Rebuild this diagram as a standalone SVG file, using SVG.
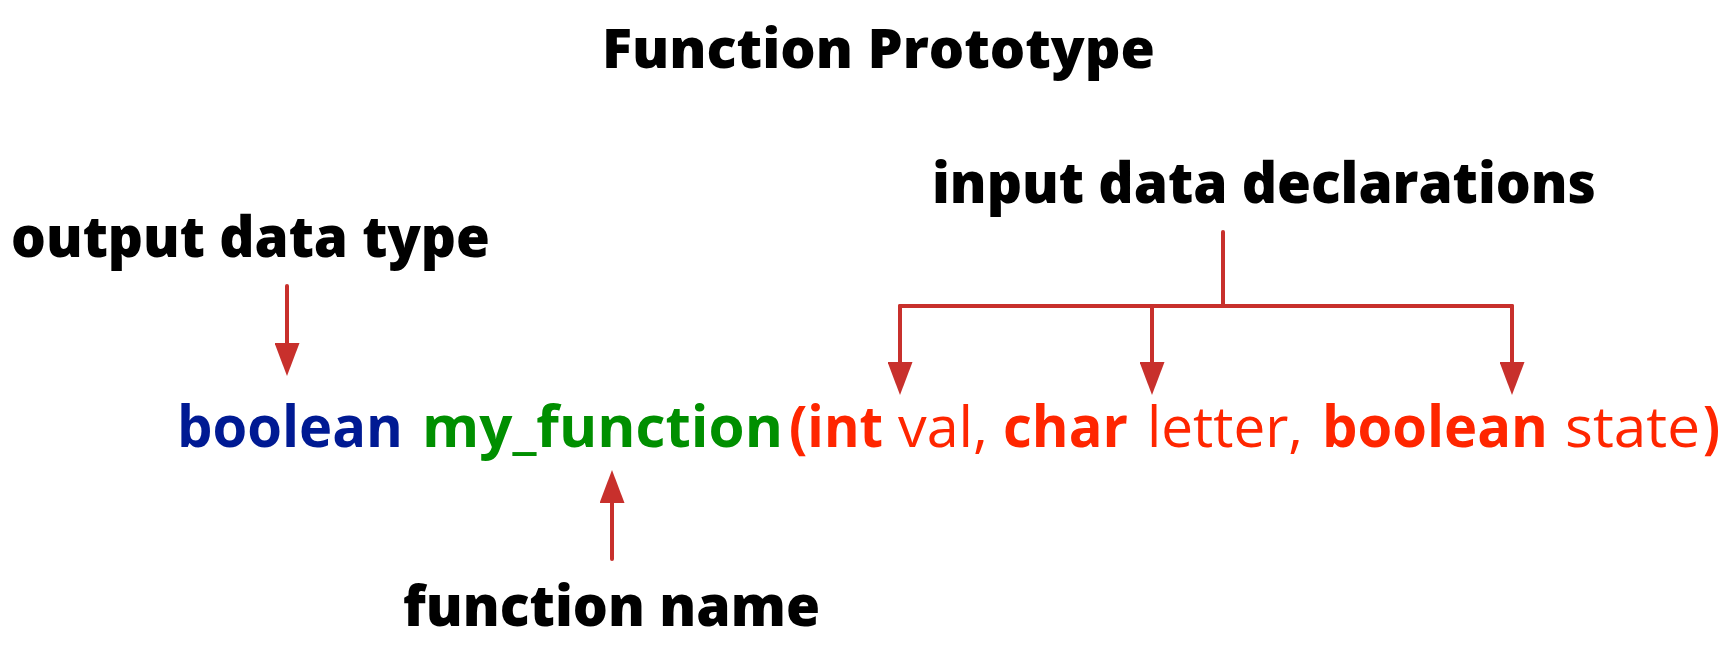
<svg xmlns="http://www.w3.org/2000/svg" width="1732" height="648" viewBox="0 0 1732 648">
<style>
  .lbl { font-family: "Open Sans", "Liberation Sans", sans-serif; font-weight: 800; fill: #000; }
  .code { font-family: "Open Sans", "Liberation Sans", sans-serif; font-size: 57px; }
  .b { font-weight: 700; }
  .r { font-weight: 400; }
  .blue { fill: #001A93; }
  .green { fill: #008F00; }
  .red { fill: #FF2600; }
  .conn { stroke: #C8302C; stroke-width: 4; fill: none; stroke-linecap: round; }
</style>
<defs>
  <marker id="ah" viewBox="0 0 33 25" refX="0" refY="12.5" markerWidth="33" markerHeight="25" markerUnits="userSpaceOnUse" orient="auto">
    <path d="M0,0 L33,12.5 L0,25 Z" fill="#C8302C"/>
  </marker>
</defs>
<rect width="1732" height="648" fill="#fff"/>
<g id="title">
  <text class="lbl" x="602" y="68" font-size="55" font-weight="700" textLength="553" lengthAdjust="spacingAndGlyphs">Function Prototype</text>
</g>
<g id="output-data-type">
  <text class="lbl" x="11" y="257" font-size="56" textLength="479" lengthAdjust="spacingAndGlyphs">output data type</text>
</g>
<g id="input-data-declarations">
  <text class="lbl" x="932" y="203" font-size="56" textLength="664" lengthAdjust="spacingAndGlyphs">input data declarations</text>
</g>
<g id="function-name">
  <text class="lbl" x="403" y="626" font-size="56" textLength="417" lengthAdjust="spacingAndGlyphs">function name</text>
</g>
<g id="prototype" class="code">
  <text class="b blue" x="177" y="447" textLength="226" lengthAdjust="spacingAndGlyphs">boolean</text>
  <text class="b green" x="422" y="447" textLength="361" lengthAdjust="spacingAndGlyphs">my_function</text>
  <text class="b red" x="789" y="447" textLength="94" lengthAdjust="spacingAndGlyphs">(int</text>
  <text class="r red" x="898" y="447" textLength="90" lengthAdjust="spacingAndGlyphs">val,</text>
  <text class="b red" x="1003" y="447" textLength="125" lengthAdjust="spacingAndGlyphs">char</text>
  <text class="r red" x="1147" y="447" textLength="156" lengthAdjust="spacingAndGlyphs">letter,</text>
  <text class="b red" x="1322" y="447" textLength="226" lengthAdjust="spacingAndGlyphs">boolean</text>
  <text class="r red" x="1565" y="447" textLength="135" lengthAdjust="spacingAndGlyphs">state</text>
  <text class="b red" x="1703" y="447" textLength="17" lengthAdjust="spacingAndGlyphs">)</text>
</g>
<g id="connectors">
  <path class="conn" d="M287,286 V343" marker-end="url(#ah)"/>
  <path class="conn" d="M1223,232 V306"/>
  <path class="conn" d="M900,306 H1512" stroke-width="5" stroke-linecap="butt"/>
  <path class="conn" d="M900,306 V362" marker-end="url(#ah)"/>
  <path class="conn" d="M1152,306 V362" marker-end="url(#ah)"/>
  <path class="conn" d="M1512,306 V362" marker-end="url(#ah)"/>
  <path class="conn" d="M612,559 V503" marker-end="url(#ah)"/>
</g>
</svg>
